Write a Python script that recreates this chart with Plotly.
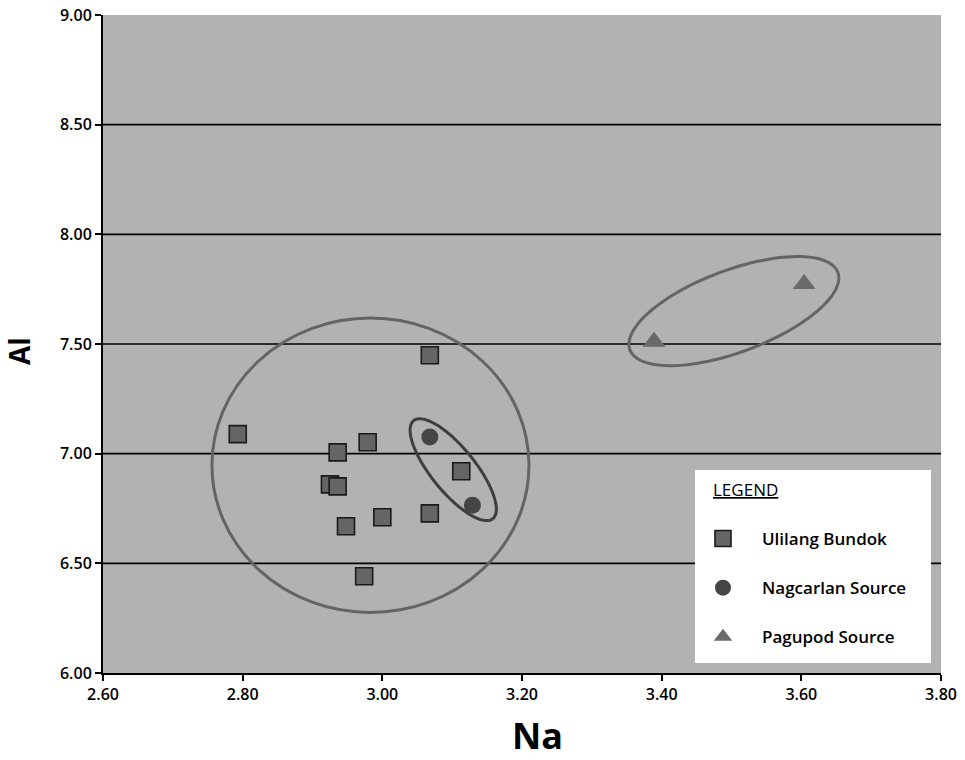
import numpy as np
import plotly.graph_objects as go

# ---- data ----
ulilang_na = [2.793, 3.068, 2.936, 2.979, 2.925, 2.936, 2.948, 3.000, 3.068, 3.113, 2.974]
ulilang_al = [7.089, 7.449, 7.006, 7.052, 6.860, 6.851, 6.669, 6.710, 6.728, 6.920, 6.441]
nagcarlan_na = [3.068, 3.129]
nagcarlan_al = [7.076, 6.765]
pagupod_na = [3.389, 3.604]
pagupod_al = [7.510, 7.773]
x_ticks = [2.6, 2.8, 3.0, 3.2, 3.4, 3.6, 3.8]
y_ticks = [6.0, 6.5, 7.0, 7.5, 8.0, 8.5, 9.0]
grid_vals = [6.5, 7.0, 7.5, 8.0, 8.5]

# ellipse groupings: center, conjugate semi-axis vectors (data units)
ell_nag = dict(c=(3.1015, 6.927), u=(0.0567, -0.2235), v=(0.0245, 0.063))
ell_pag = dict(c=(3.5034, 7.650), u=(0.1489, 0.1766), v=(-0.0205, 0.1753))
ell_big = dict(c=(2.983, 6.947), rx=0.227, ry=0.671)


def ellipse_path(e, n=120):
    t = np.linspace(0, 2 * np.pi, n)
    xs = e["c"][0] + e["u"][0] * np.cos(t) + e["v"][0] * np.sin(t)
    ys = e["c"][1] + e["u"][1] * np.cos(t) + e["v"][1] * np.sin(t)
    pts = [f"{x:.5f},{y:.5f}" for x, y in zip(xs, ys)]
    return "M " + " L ".join(pts) + " Z"


FONT = "Open Sans"

fig = go.Figure()
fig.add_trace(go.Scatter(
    x=ulilang_na, y=ulilang_al, mode="markers", name="Ulilang Bundok",
    legendgroup="a",
    marker=dict(symbol="square", size=17, color="#656565",
                line=dict(color="#1a1a1a", width=1.6))))
fig.add_trace(go.Scatter(
    x=nagcarlan_na, y=nagcarlan_al, mode="markers", name="Nagcarlan Source",
    legendgroup="b",
    marker=dict(symbol="circle", size=17, color="#454545",
                line=dict(width=0))))
fig.add_trace(go.Scatter(
    x=pagupod_na, y=pagupod_al, mode="markers", name="Pagupod Source",
    legendgroup="c",
    marker=dict(symbol="triangle-up", size=20, color="#6a6a6a",
                line=dict(width=0))))

shapes = [
    dict(type="line", xref="paper", yref="y", x0=0, x1=1, y0=g, y1=g,
         line=dict(color="black", width=1.6), layer="below")
    for g in grid_vals
]
shapes += [
    dict(type="circle", xref="x", yref="y",
         x0=ell_big["c"][0] - ell_big["rx"], x1=ell_big["c"][0] + ell_big["rx"],
         y0=ell_big["c"][1] - ell_big["ry"], y1=ell_big["c"][1] + ell_big["ry"],
         line=dict(color="#646464", width=3), layer="above"),
    dict(type="path", xref="x", yref="y", path=ellipse_path(ell_nag),
         line=dict(color="#3e3e3e", width=3), layer="above"),
    dict(type="path", xref="x", yref="y", path=ellipse_path(ell_pag),
         line=dict(color="#646464", width=3), layer="above"),
    # legend box
    dict(type="rect", xref="paper", yref="paper",
         x0=0.7064, x1=0.9881, y0=0.0152, y1=0.3085,
         fillcolor="white", line=dict(width=0), layer="above"),
]

fig.update_layout(
    width=965, height=760,
    margin=dict(l=103, r=24, t=15, b=87, autoexpand=False),
    paper_bgcolor="white", plot_bgcolor="#b2b2b2",
    font=dict(family=FONT, color="black", size=15),
    shapes=shapes,
    showlegend=True,
    legend=dict(
        x=0.6933, y=0.2310, xanchor="left", yanchor="top",
        bgcolor="rgba(0,0,0,0)", borderwidth=0,
        font=dict(family=FONT, size=17, color="black", weight=600),
        tracegroupgap=24, itemwidth=68,
    ),
    annotations=[
        dict(text="<u>LEGEND</u>", xref="paper", yref="paper", x=0.7255, y=0.2789,
             xanchor="left", yanchor="middle", showarrow=False,
             font=dict(family=FONT, size=17, color="black")),
        dict(text="<b>Na</b>", xref="paper", yref="paper", x=0.518, y=-0.1345,
             xanchor="center", yanchor="bottom", showarrow=False,
             font=dict(family=FONT, size=36, color="black")),
        dict(text="<b>Al</b>", xref="paper", yref="paper", x=-0.1007, y=0.4886,
             xanchor="center", yanchor="middle", showarrow=False, textangle=-90,
             font=dict(family=FONT, size=28, color="black")),
    ],
)

fig.update_xaxes(
    range=[2.6, 3.8], tickvals=x_ticks, ticktext=[f"{v:.2f}" for v in x_ticks],
    showgrid=False, zeroline=False, automargin=False,
    showline=True, linecolor="black", linewidth=2,
    ticks="outside", ticklen=6, tickwidth=1.5, tickcolor="black",
    tickfont=dict(family=FONT, size=16, weight=600),
)
fig.update_yaxes(
    range=[6.0, 9.0], tickvals=y_ticks, ticktext=[f"{v:.2f}" for v in y_ticks],
    showgrid=False, zeroline=False, automargin=False,
    showline=True, linecolor="black", linewidth=2,
    ticks="outside", ticklen=6, tickwidth=1.5, tickcolor="black",
    tickfont=dict(family=FONT, size=16, weight=600),
)

fig.write_html("out.html")
